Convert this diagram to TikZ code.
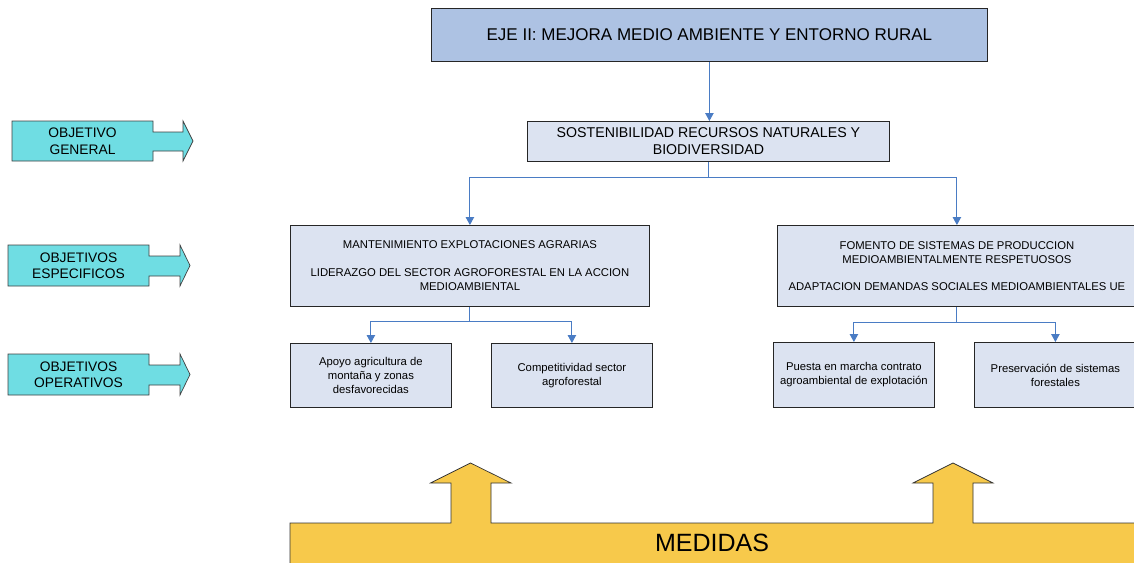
\documentclass[tikz,border=0pt]{standalone}
\usepackage{fontspec}
\setmainfont{Liberation Sans}
\usetikzlibrary{arrows.meta}
\definecolor{objcyan}{RGB}{111,221,227}
\definecolor{topblue}{RGB}{173,194,227}
\definecolor{lightbox}{RGB}{220,227,241}
\definecolor{connblue}{RGB}{74,124,196}
\definecolor{medyellow}{RGB}{247,201,75}
\begin{document}
\begin{tikzpicture}[x=1pt,y=-1pt,
  box/.style={draw=black!85,line width=0.8pt,fill=lightbox,anchor=north west,inner sep=0pt,align=center,
    font=\fontsize{11.3}{14}\selectfont},
  conn/.style={draw=connblue,line width=0.9pt},
  arr/.style={conn,-{Triangle[width=8.5pt,length=8pt]}},
  objshape/.style={draw=black!75,line width=0.7pt,fill=objcyan},
  objtext/.style={align=center,inner sep=0pt,font=\fontsize{13.8}{16.5}\selectfont},
  medshape/.style={draw=black!80,line width=0.7pt,fill=medyellow}]
\useasboundingbox (0,0) rectangle (1134,562);

% left label arrows
\draw[objshape] (12,121) -- (153,121) -- (153,132) -- (183,132) -- (183,121) -- (193,141)
  -- (183,161) -- (183,151) -- (153,151) -- (153,161) -- (12,161) -- cycle;
\node[objtext] (ogen) at (82.5,141) {OBJETIVO\\GENERAL};
\draw[objshape] (8,245) -- (149,245) -- (149,256) -- (180,256) -- (180,245) -- (190,265.5)
  -- (180,286) -- (180,276) -- (149,276) -- (149,286) -- (8,286) -- cycle;
\node[objtext] (oesp) at (78.5,265.5) {OBJETIVOS\\ESPECIFICOS};
\draw[objshape] (8,354) -- (149,354) -- (149,365) -- (180,365) -- (180,354) -- (190,374.5)
  -- (180,395) -- (180,385) -- (149,385) -- (149,395) -- (8,395) -- cycle;
\node[objtext] (oope) at (78.5,374.5) {OBJETIVOS\\OPERATIVOS};

% boxes
\node[box,fill=topblue,minimum width=556pt,minimum height=53pt,font=\fontsize{17}{20}\selectfont]
  (eje) at (431,8) {EJE II: MEJORA MEDIO AMBIENTE Y ENTORNO RURAL};
\node[box,minimum width=362pt,minimum height=40pt,font=\fontsize{14.2}{17}\selectfont]
  (sost) at (527,121) {SOSTENIBILIDAD RECURSOS NATURALES Y\\BIODIVERSIDAD};
\node[box,minimum width=359pt,minimum height=81pt] (specL) at (290,225)
  {MANTENIMIENTO EXPLOTACIONES AGRARIAS\\[14pt]LIDERAZGO DEL SECTOR AGROFORESTAL EN LA ACCION\\MEDIOAMBIENTAL};
\node[box,minimum width=359pt,minimum height=81pt] (specR) at (777,225)
  {FOMENTO DE SISTEMAS DE PRODUCCION\\MEDIOAMBIENTALMENTE RESPETUOSOS\\[13pt]ADAPTACION DEMANDAS SOCIALES MEDIOAMBIENTALES UE};
\node[box,minimum width=161pt,minimum height=64pt] (opL1) at (290,343)
  {Apoyo agricultura de\\montaña y zonas\\desfavorecidas};
\node[box,minimum width=161pt,minimum height=64pt] (opL2) at (491,343)
  {Competitividad sector\\agroforestal};
\node[box,minimum width=161pt,minimum height=65pt] (opR1) at (773,342)
  {Puesta en marcha contrato\\agroambiental de explotación};
\node[box,minimum width=162pt,minimum height=65pt] (opR2) at (974,342)
  {Preservación de sistemas\\forestales};

% connectors
\draw[arr] (eje.south) -- (eje.south |- sost.north);
\draw[conn] (sost.south) -- ++(0,16) coordinate (j1);
\draw[arr] (j1) -| (specL.north);
\draw[arr] (j1) -| (specR.north);
\draw[conn] (specL.south) -- ++(0,15) coordinate (j2);
\draw[arr] (j2) -| (opL1.north);
\draw[arr] (j2) -| (opL2.north);
\draw[conn] (specR.south) -- ++(0,16) coordinate (j3);
\draw[arr] (j3) -| (opR1.north);
\draw[arr] (j3) -| (opR2.north);

% medidas
\draw[medshape] (290,580) -- (290,523) -- (451,523) -- (451,483) -- (430.5,483) -- (470.5,463)
  -- (511,483) -- (491,483) -- (491,523) -- (933,523) -- (933,483) -- (913,483) -- (953,463)
  -- (993,483) -- (973,483) -- (973,523) -- (1150,523) -- (1150,580) -- cycle;
\node[inner sep=0pt,font=\fontsize{25}{28}\selectfont] (med) at (712,543) {MEDIDAS};
\end{tikzpicture}
\end{document}
